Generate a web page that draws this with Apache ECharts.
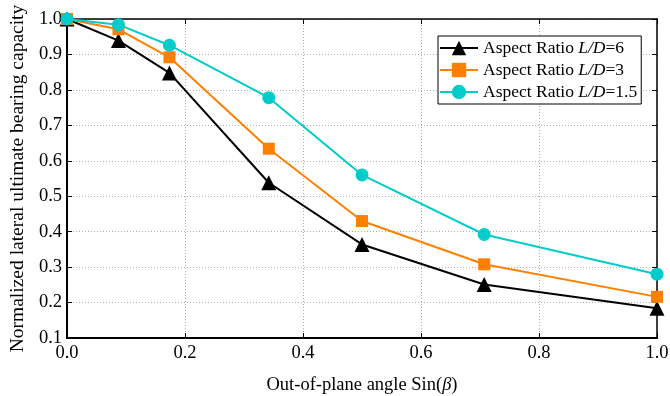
<!DOCTYPE html>
<html>
<head>
<meta charset="utf-8">
<script src="https://cdn.jsdelivr.net/npm/echarts@6/dist/echarts.min.js"></script>
<style>
  html, body { margin: 0; padding: 0; background: #fff; }
  #chart { width: 670px; height: 396px; }
</style>
</head>
<body>
<div id="chart"></div>
<script>
// sin(beta) for beta = 0, 5, 10, 20, 30, 45, 90 deg
const sinBeta = [0, 0.0872, 0.1736, 0.342, 0.5, 0.7071, 1.0]
const ld6 = [1.0, 0.939, 0.848, 0.538, 0.364, 0.251, 0.184]
const ld3 = [1.0, 0.971, 0.892, 0.634, 0.43, 0.308, 0.216]
const ld15 = [1.0, 0.984, 0.926, 0.778, 0.56, 0.392, 0.28]
const seriesNames = ['L/D=6', 'L/D=3', 'L/D=1.5']

const font = '"Liberation Serif", "Times New Roman", serif'
const pair = (ys) => sinBeta.map((x, i) => [x, ys[i]])

const chart = echarts.init(document.getElementById('chart'))

const gridLine = { show: true, lineStyle: { type: [1, 2], color: '#b0b0b0', width: 1 } }

const option = {
  backgroundColor: '#fff',
  animation: false,
  grid: { left: 67, right: 13, top: 19, bottom: 58, containLabel: false, outerBoundsMode: 'none' },
  legend: {
    data: seriesNames,
    left: 438,
    top: 36,
    orient: 'vertical',
    backgroundColor: '#fff',
    borderColor: '#000',
    borderWidth: 1,
    borderRadius: 0,
    padding: [3, 4, 3, 1],
    itemGap: 4,
    itemWidth: 38,
    itemHeight: 18,
    formatter: name => {
      const v = name.split('=')[1]
      return '{a|Aspect Ratio }{i|L/D}{a|=' + v + '}'
    },
    textStyle: {
      fontFamily: font,
      fontSize: 17.5,
      color: '#000',
      rich: {
        a: { fontFamily: font, fontSize: 17.5, color: '#000' },
        i: { fontFamily: font, fontSize: 17.5, color: '#000', fontStyle: 'italic' }
      }
    }
  },
  xAxis: [
    {
      type: 'value',
      min: 0, max: 1, interval: 0.2,
      name: '{a|Out-of-plane angle Sin(}{i|β}{a|)}',
      nameLocation: 'middle',
      nameGap: 38,
      nameTextStyle: {
        fontFamily: font, fontSize: 18.5, color: '#000',
        rich: {
          a: { fontFamily: font, fontSize: 18.5, color: '#000' },
          i: { fontFamily: font, fontSize: 18.5, color: '#000', fontStyle: 'italic' }
        }
      },
      axisLine: { show: true, onZero: false, lineStyle: { color: '#000', width: 2 } },
      axisTick: { show: true, inside: true, length: 5, lineStyle: { color: '#000' } },
      axisLabel: {
        fontFamily: font, fontSize: 18.5, color: '#000', margin: 6,
        formatter: v => v.toFixed(1)
      },
      splitLine: gridLine
    },
    {
      type: 'value', position: 'top',
      min: 0, max: 1, interval: 0.2,
      axisLine: { show: true, onZero: false, lineStyle: { color: '#000', width: 1.5 } },
      axisTick: { show: true, inside: true, length: 5, lineStyle: { color: '#000' } },
      axisLabel: { show: false },
      splitLine: { show: false }
    }
  ],
  yAxis: [
    {
      type: 'value',
      min: 0.1, max: 1.0, interval: 0.1,
      name: 'Normalized lateral ultimate bearing capacity',
      nameLocation: 'middle',
      nameGap: 39,
      nameTextStyle: { fontFamily: font, fontSize: 19.5, color: '#000' },
      axisLine: { show: true, onZero: false, lineStyle: { color: '#000', width: 2 } },
      axisTick: { show: true, inside: true, length: 5, lineStyle: { color: '#000' } },
      axisLabel: {
        fontFamily: font, fontSize: 18.5, color: '#000', margin: 5,
        formatter: v => v.toFixed(1)
      },
      splitLine: gridLine
    },
    {
      type: 'value', position: 'right',
      min: 0.1, max: 1.0, interval: 0.1,
      axisLine: { show: true, onZero: false, lineStyle: { color: '#000', width: 1.5 } },
      axisTick: { show: true, inside: true, length: 5, lineStyle: { color: '#000' } },
      axisLabel: { show: false },
      splitLine: { show: false }
    }
  ],
  series: [
    {
      name: seriesNames[0], type: 'line', data: pair(ld6),
      symbol: 'triangle', symbolSize: 15,
      itemStyle: { color: '#000' },
      lineStyle: { color: '#000', width: 2 }
    },
    {
      name: seriesNames[1], type: 'line', data: pair(ld3),
      symbol: 'rect', symbolSize: 12,
      itemStyle: { color: '#ff8000' },
      lineStyle: { color: '#ff8000', width: 2 }
    },
    {
      name: seriesNames[2], type: 'line', data: pair(ld15),
      symbol: 'circle', symbolSize: 13,
      itemStyle: { color: '#00cccc' },
      lineStyle: { color: '#00cccc', width: 2 }
    }
  ]
}

chart.setOption(option)
</script>
</body>
</html>
